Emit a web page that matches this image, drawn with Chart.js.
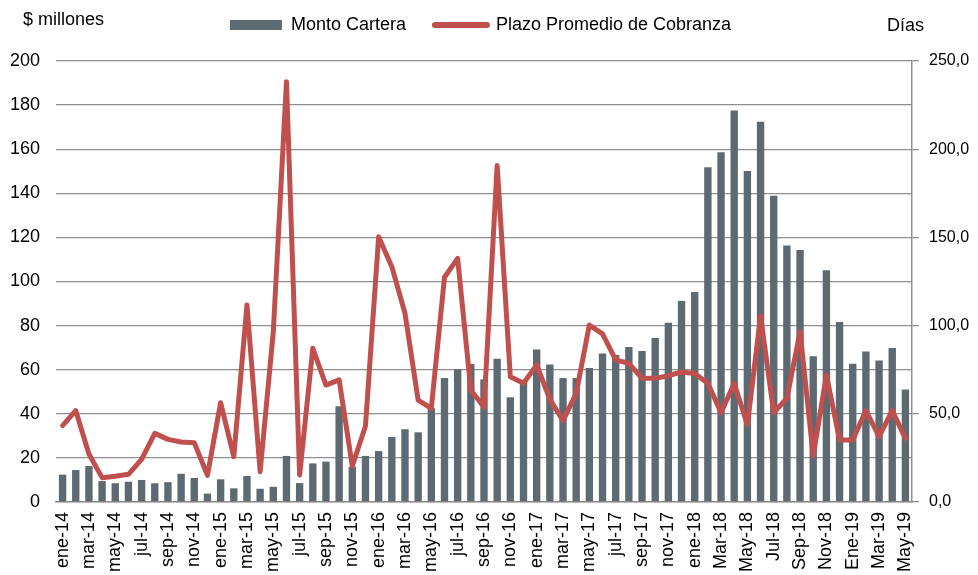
<!DOCTYPE html>
<html>
<head>
<meta charset="utf-8">
<script src="https://cdn.jsdelivr.net/npm/chart.js@4.4.1/dist/chart.umd.min.js"></script>
<style>
  html, body { margin: 0; padding: 0; background: #ffffff; }
  #wrap { width: 978px; height: 575px; }
</style>
</head>
<body>
<div id="wrap"><canvas id="c" width="978" height="575"></canvas></div>
<script>
// ---- data ----
const categories = [
  'ene-14','feb-14','mar-14','abr-14','may-14','jun-14','jul-14','ago-14','sep-14','oct-14','nov-14','dic-14',
  'ene-15','feb-15','mar-15','abr-15','may-15','jun-15','jul-15','ago-15','sep-15','oct-15','nov-15','dic-15',
  'ene-16','feb-16','mar-16','abr-16','may-16','jun-16','jul-16','ago-16','sep-16','oct-16','nov-16','dic-16',
  'ene-17','feb-17','mar-17','abr-17','may-17','jun-17','jul-17','ago-17','sep-17','oct-17','nov-17','dic-17',
  'ene-18','feb-18','Mar-18','Abr-18','May-18','Jun-18','Jul-18','Ago-18','Sep-18','Oct-18','Nov-18','Dic-18',
  'Ene-19','Feb-19','Mar-19','Abr-19','May-19'
];
const montoCartera = [
  12.4, 14.5, 16.3, 9.5, 8.5, 9.2, 10.0, 8.5, 9.0, 12.8, 10.9, 3.8,
  10.3, 6.2, 11.8, 6.0, 6.9, 20.9, 8.6, 17.5, 18.3, 43.4, 16.0, 20.9,
  23.1, 29.5, 33.0, 31.6, 42.5, 56.2, 60.2, 62.6, 55.6, 65.0, 47.5, 55.0,
  69.2, 62.4, 56.2, 56.2, 60.8, 67.4, 66.7, 70.3, 68.5, 74.4, 81.3, 91.2,
  95.2, 151.8, 158.6, 177.5, 150.1, 172.5, 138.9, 116.3, 114.3, 66.1, 105.1, 81.6,
  62.7, 68.3, 64.2, 69.8, 51.0
];
const plazoPromedio = [
  43.3, 51.8, 27.2, 13.8, 14.6, 15.7, 24.2, 38.9, 35.5, 34.0, 33.6, 15.1,
  56.3, 25.7, 111.7, 17.2, 96.5, 238.3, 15.3, 87.1, 66.3, 69.2, 20.4, 43.1,
  150.4, 133.4, 107.0, 57.8, 53.1, 127.4, 138.1, 63.5, 53.7, 190.7, 71.0, 67.3,
  77.7, 58.2, 46.1, 61.6, 100.3, 95.3, 80.5, 78.6, 70.1, 70.1, 71.6, 73.7,
  72.9, 67.3, 50.6, 67.3, 43.7, 105.4, 50.6, 58.8, 96.5, 26.1, 72.0, 35.1,
  35.1, 51.8, 37.0, 51.8, 36.1
];
const seriesNames = ['Monto Cartera', 'Plazo Promedio de Cobranza'];
const leftAxisTitle = '$ millones';
const rightAxisTitle = 'Días';

// ---- styles ----
const FONT = '"Liberation Sans", Arial, Helvetica, sans-serif';
const FS = 18;
const BAR = '#5e6a72';
const RED = '#c0504d';
const GRID = '#8f8f8f';

const titlesPlugin = {
  id: 'titles',
  afterDraw(chart) {
    const ctx = chart.ctx;
    ctx.save();
    ctx.font = FS + 'px ' + FONT;
    ctx.fillStyle = '#000';
    ctx.textBaseline = 'middle';
    ctx.textAlign = 'left';
    ctx.fillText(leftAxisTitle, 23, 20);
    ctx.fillText(rightAxisTitle, 887, 26);
    ctx.restore();
  }
};

const legendPlacePlugin = {
  id: 'legendPlace',
  beforeLayout(chart) {
    const lg = chart.legend;
    if (lg && !lg._fixed) {
      const f = lg.fit.bind(lg);
      lg.fit = function () { f(); this.height = 61; };
      lg._fixed = true;
    }
  },
  afterLayout(chart) {
    const lg = chart.legend;
    if (lg) { lg.top = -13; lg.left = -17; }
  }
};

new Chart(document.getElementById('c'), {
  data: {
    labels: categories,
    datasets: [
      {
        type: 'bar',
        label: seriesNames[0],
        data: montoCartera,
        backgroundColor: BAR,
        borderWidth: 0,
        categoryPercentage: 1.0,
        barPercentage: 0.56,
        yAxisID: 'y',
        order: 2
      },
      {
        type: 'line',
        label: seriesNames[1],
        data: plazoPromedio,
        borderColor: RED,
        backgroundColor: RED,
        borderWidth: 5,
        tension: 0,
        pointRadius: 0,
        borderJoinStyle: 'round',
        borderCapStyle: 'round',
        yAxisID: 'y2',
        order: 1
      }
    ]
  },
  options: {
    responsive: false,
    animation: false,
    devicePixelRatio: 1,
    layout: { padding: { top: 0, left: 0, right: 0, bottom: 0 } },
    plugins: {
      tooltip: { enabled: false },
      legend: {
        position: 'top',
        labels: {
          font: { family: FONT, size: FS },
          color: '#000',
          padding: 29,
          boxWidth: 52,
          boxHeight: 10,
          usePointStyle: true,
          pointStyleWidth: 52,
          generateLabels: () => [
            { text: seriesNames[0], fillStyle: BAR, strokeStyle: BAR, lineWidth: 0, pointStyle: 'rect', datasetIndex: 0, hidden: false, fontColor: '#000' },
            { text: seriesNames[1], fillStyle: RED, strokeStyle: RED, lineWidth: 6, lineCap: 'round', pointStyle: 'line', datasetIndex: 1, hidden: false, fontColor: '#000' }
          ]
        }
      }
    },
    scales: {
      x: {
        type: 'category',
        offset: true,
        grid: { display: false, drawTicks: false },
        border: { display: true, color: GRID, width: 1.5 },
        ticks: {
          autoSkip: false,
          maxRotation: 90,
          minRotation: 90,
          padding: 10,
          color: '#000',
          font: { family: FONT, size: FS },
          callback: (v, i) => (i % 2 === 0 ? categories[i] : '')
        },
        afterFit: (s) => { s.height = 73; }
      },
      y: {
        position: 'left',
        min: 0,
        max: 200,
        ticks: { stepSize: 20, padding: 16, color: '#000', font: { family: FONT, size: FS } },
        grid: { color: GRID, lineWidth: 1.3, drawTicks: false },
        border: { display: false },
        afterFit: (s) => { s.width = 56; }
      },
      y2: {
        position: 'right',
        min: 0,
        max: 250,
        ticks: {
          stepSize: 50,
          padding: 10,
          color: '#000',
          font: { family: FONT, size: 16 },
          callback: (v) => v.toFixed(1).replace('.', ',')
        },
        grid: { drawOnChartArea: false, color: GRID, lineWidth: 1.3, tickLength: 7 },
        border: { display: true, color: GRID, width: 1.5 },
        afterFit: (s) => { s.width = 66; }
      }
    }
  },
  plugins: [legendPlacePlugin, titlesPlugin]
});
</script>
</body>
</html>
